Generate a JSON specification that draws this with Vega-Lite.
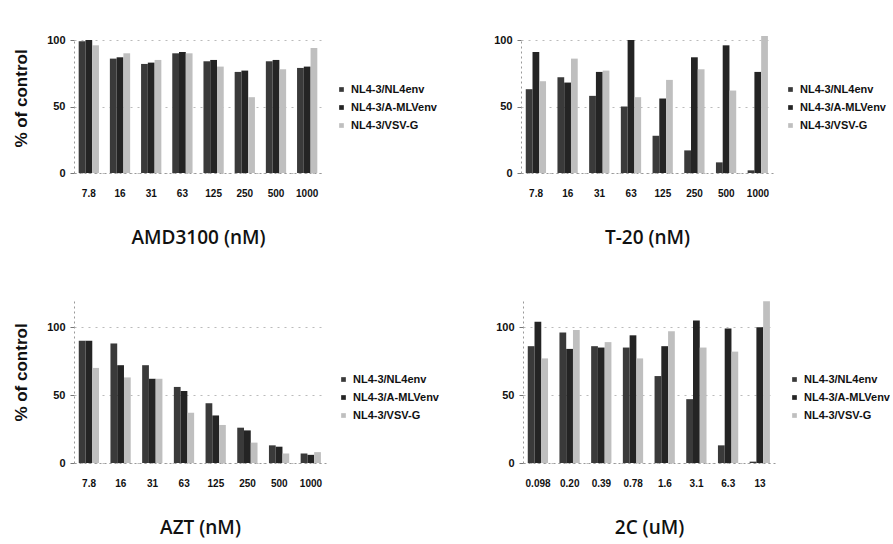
{
  "$schema": "https://vega.github.io/schema/vega-lite/v6.json",
  "background": "white",
  "padding": {"left": 12, "top": 34, "right": 0, "bottom": 8},
  "config": {
    "view": {"stroke": null},
    "font": "Liberation Sans",
    "axis": {
      "labelFont": "Liberation Sans", "labelFontWeight": "bold", "labelFontSize": 10, "labelColor": "#111",
      "titleFont": "Open Sans", "titleFontSize": 19, "titleFontWeight": 600, "titleColor": "#111",
      "domainColor": "#999", "domainDash": [2, 3], "tickColor": "#777", "gridColor": "#bbb", "gridDash": [2, 5]
    },
    "axisX": {"ticks": false, "labelPadding": 15, "titlePadding": 30, "grid": false, "labelAngle": 0},
    "axisY": {"tickSize": 4, "labelPadding": 5, "labelFontSize": 11, "titleFont": "Liberation Sans", "titleFontSize": 17, "titleFontWeight": "bold", "titlePadding": 16, "grid": true},
    "legend": {"labelFont": "Liberation Sans", "labelFontWeight": "bold", "labelFontSize": 11, "labelColor": "#111", "symbolType": "square", "symbolSize": 22, "symbolStrokeWidth": 0, "rowPadding": 6, "title": null},
    "bar": {"stroke": null}
  },
  "data": {"values": [
    {"panel": "AMD3100", "conc": "7.8", "series": "NL4-3/NL4env", "value": 99},
    {"panel": "AMD3100", "conc": "7.8", "series": "NL4-3/A-MLVenv", "value": 100},
    {"panel": "AMD3100", "conc": "7.8", "series": "NL4-3/VSV-G", "value": 96},
    {"panel": "AMD3100", "conc": "16", "series": "NL4-3/NL4env", "value": 86},
    {"panel": "AMD3100", "conc": "16", "series": "NL4-3/A-MLVenv", "value": 87},
    {"panel": "AMD3100", "conc": "16", "series": "NL4-3/VSV-G", "value": 90},
    {"panel": "AMD3100", "conc": "31", "series": "NL4-3/NL4env", "value": 82},
    {"panel": "AMD3100", "conc": "31", "series": "NL4-3/A-MLVenv", "value": 83},
    {"panel": "AMD3100", "conc": "31", "series": "NL4-3/VSV-G", "value": 85},
    {"panel": "AMD3100", "conc": "63", "series": "NL4-3/NL4env", "value": 90},
    {"panel": "AMD3100", "conc": "63", "series": "NL4-3/A-MLVenv", "value": 91},
    {"panel": "AMD3100", "conc": "63", "series": "NL4-3/VSV-G", "value": 90},
    {"panel": "AMD3100", "conc": "125", "series": "NL4-3/NL4env", "value": 84},
    {"panel": "AMD3100", "conc": "125", "series": "NL4-3/A-MLVenv", "value": 85},
    {"panel": "AMD3100", "conc": "125", "series": "NL4-3/VSV-G", "value": 80},
    {"panel": "AMD3100", "conc": "250", "series": "NL4-3/NL4env", "value": 76},
    {"panel": "AMD3100", "conc": "250", "series": "NL4-3/A-MLVenv", "value": 77},
    {"panel": "AMD3100", "conc": "250", "series": "NL4-3/VSV-G", "value": 57},
    {"panel": "AMD3100", "conc": "500", "series": "NL4-3/NL4env", "value": 84},
    {"panel": "AMD3100", "conc": "500", "series": "NL4-3/A-MLVenv", "value": 85},
    {"panel": "AMD3100", "conc": "500", "series": "NL4-3/VSV-G", "value": 78},
    {"panel": "AMD3100", "conc": "1000", "series": "NL4-3/NL4env", "value": 79},
    {"panel": "AMD3100", "conc": "1000", "series": "NL4-3/A-MLVenv", "value": 80},
    {"panel": "AMD3100", "conc": "1000", "series": "NL4-3/VSV-G", "value": 94},

    {"panel": "T-20", "conc": "7.8", "series": "NL4-3/NL4env", "value": 63},
    {"panel": "T-20", "conc": "7.8", "series": "NL4-3/A-MLVenv", "value": 91},
    {"panel": "T-20", "conc": "7.8", "series": "NL4-3/VSV-G", "value": 69},
    {"panel": "T-20", "conc": "16", "series": "NL4-3/NL4env", "value": 72},
    {"panel": "T-20", "conc": "16", "series": "NL4-3/A-MLVenv", "value": 68},
    {"panel": "T-20", "conc": "16", "series": "NL4-3/VSV-G", "value": 86},
    {"panel": "T-20", "conc": "31", "series": "NL4-3/NL4env", "value": 58},
    {"panel": "T-20", "conc": "31", "series": "NL4-3/A-MLVenv", "value": 76},
    {"panel": "T-20", "conc": "31", "series": "NL4-3/VSV-G", "value": 77},
    {"panel": "T-20", "conc": "63", "series": "NL4-3/NL4env", "value": 50},
    {"panel": "T-20", "conc": "63", "series": "NL4-3/A-MLVenv", "value": 100},
    {"panel": "T-20", "conc": "63", "series": "NL4-3/VSV-G", "value": 57},
    {"panel": "T-20", "conc": "125", "series": "NL4-3/NL4env", "value": 28},
    {"panel": "T-20", "conc": "125", "series": "NL4-3/A-MLVenv", "value": 56},
    {"panel": "T-20", "conc": "125", "series": "NL4-3/VSV-G", "value": 70},
    {"panel": "T-20", "conc": "250", "series": "NL4-3/NL4env", "value": 17},
    {"panel": "T-20", "conc": "250", "series": "NL4-3/A-MLVenv", "value": 87},
    {"panel": "T-20", "conc": "250", "series": "NL4-3/VSV-G", "value": 78},
    {"panel": "T-20", "conc": "500", "series": "NL4-3/NL4env", "value": 8},
    {"panel": "T-20", "conc": "500", "series": "NL4-3/A-MLVenv", "value": 96},
    {"panel": "T-20", "conc": "500", "series": "NL4-3/VSV-G", "value": 62},
    {"panel": "T-20", "conc": "1000", "series": "NL4-3/NL4env", "value": 2},
    {"panel": "T-20", "conc": "1000", "series": "NL4-3/A-MLVenv", "value": 76},
    {"panel": "T-20", "conc": "1000", "series": "NL4-3/VSV-G", "value": 103},

    {"panel": "AZT", "conc": "7.8", "series": "NL4-3/NL4env", "value": 90},
    {"panel": "AZT", "conc": "7.8", "series": "NL4-3/A-MLVenv", "value": 90},
    {"panel": "AZT", "conc": "7.8", "series": "NL4-3/VSV-G", "value": 70},
    {"panel": "AZT", "conc": "16", "series": "NL4-3/NL4env", "value": 88},
    {"panel": "AZT", "conc": "16", "series": "NL4-3/A-MLVenv", "value": 72},
    {"panel": "AZT", "conc": "16", "series": "NL4-3/VSV-G", "value": 63},
    {"panel": "AZT", "conc": "31", "series": "NL4-3/NL4env", "value": 72},
    {"panel": "AZT", "conc": "31", "series": "NL4-3/A-MLVenv", "value": 62},
    {"panel": "AZT", "conc": "31", "series": "NL4-3/VSV-G", "value": 62},
    {"panel": "AZT", "conc": "63", "series": "NL4-3/NL4env", "value": 56},
    {"panel": "AZT", "conc": "63", "series": "NL4-3/A-MLVenv", "value": 53},
    {"panel": "AZT", "conc": "63", "series": "NL4-3/VSV-G", "value": 37},
    {"panel": "AZT", "conc": "125", "series": "NL4-3/NL4env", "value": 44},
    {"panel": "AZT", "conc": "125", "series": "NL4-3/A-MLVenv", "value": 35},
    {"panel": "AZT", "conc": "125", "series": "NL4-3/VSV-G", "value": 28},
    {"panel": "AZT", "conc": "250", "series": "NL4-3/NL4env", "value": 26},
    {"panel": "AZT", "conc": "250", "series": "NL4-3/A-MLVenv", "value": 24},
    {"panel": "AZT", "conc": "250", "series": "NL4-3/VSV-G", "value": 15},
    {"panel": "AZT", "conc": "500", "series": "NL4-3/NL4env", "value": 13},
    {"panel": "AZT", "conc": "500", "series": "NL4-3/A-MLVenv", "value": 12},
    {"panel": "AZT", "conc": "500", "series": "NL4-3/VSV-G", "value": 7},
    {"panel": "AZT", "conc": "1000", "series": "NL4-3/NL4env", "value": 7},
    {"panel": "AZT", "conc": "1000", "series": "NL4-3/A-MLVenv", "value": 6},
    {"panel": "AZT", "conc": "1000", "series": "NL4-3/VSV-G", "value": 8},

    {"panel": "2C", "conc": "0.098", "series": "NL4-3/NL4env", "value": 86},
    {"panel": "2C", "conc": "0.098", "series": "NL4-3/A-MLVenv", "value": 104},
    {"panel": "2C", "conc": "0.098", "series": "NL4-3/VSV-G", "value": 77},
    {"panel": "2C", "conc": "0.20", "series": "NL4-3/NL4env", "value": 96},
    {"panel": "2C", "conc": "0.20", "series": "NL4-3/A-MLVenv", "value": 84},
    {"panel": "2C", "conc": "0.20", "series": "NL4-3/VSV-G", "value": 98},
    {"panel": "2C", "conc": "0.39", "series": "NL4-3/NL4env", "value": 86},
    {"panel": "2C", "conc": "0.39", "series": "NL4-3/A-MLVenv", "value": 85},
    {"panel": "2C", "conc": "0.39", "series": "NL4-3/VSV-G", "value": 89},
    {"panel": "2C", "conc": "0.78", "series": "NL4-3/NL4env", "value": 85},
    {"panel": "2C", "conc": "0.78", "series": "NL4-3/A-MLVenv", "value": 94},
    {"panel": "2C", "conc": "0.78", "series": "NL4-3/VSV-G", "value": 77},
    {"panel": "2C", "conc": "1.6", "series": "NL4-3/NL4env", "value": 64},
    {"panel": "2C", "conc": "1.6", "series": "NL4-3/A-MLVenv", "value": 86},
    {"panel": "2C", "conc": "1.6", "series": "NL4-3/VSV-G", "value": 97},
    {"panel": "2C", "conc": "3.1", "series": "NL4-3/NL4env", "value": 47},
    {"panel": "2C", "conc": "3.1", "series": "NL4-3/A-MLVenv", "value": 105},
    {"panel": "2C", "conc": "3.1", "series": "NL4-3/VSV-G", "value": 85},
    {"panel": "2C", "conc": "6.3", "series": "NL4-3/NL4env", "value": 13},
    {"panel": "2C", "conc": "6.3", "series": "NL4-3/A-MLVenv", "value": 99},
    {"panel": "2C", "conc": "6.3", "series": "NL4-3/VSV-G", "value": 82},
    {"panel": "2C", "conc": "13", "series": "NL4-3/NL4env", "value": 1},
    {"panel": "2C", "conc": "13", "series": "NL4-3/A-MLVenv", "value": 100},
    {"panel": "2C", "conc": "13", "series": "NL4-3/VSV-G", "value": 119}
  ]},
  "resolve": {"scale": {"color": "independent"}},
  "spacing": 53,
  "vconcat": [
    {
      "resolve": {"scale": {"color": "independent"}},
      "spacing": 56,
      "hconcat": [
        {
          "width": 248, "height": 133,
          "transform": [{"filter": "datum.panel === 'AMD3100'"}],
          "mark": "bar",
          "encoding": {
            "x": {"field": "conc", "type": "nominal", "sort": null, "scale": {"paddingInner": 0.35, "paddingOuter": 0.15}, "axis": {"title": "AMD3100 (nM)"}},
            "xOffset": {"field": "series", "type": "nominal", "sort": null},
            "y": {"field": "value", "type": "quantitative", "scale": {"domain": [0, 100]}, "axis": {"values": [0, 50, 100], "title": "% of control", "titleY": 58}},
            "color": {"field": "series", "type": "nominal", "sort": null, "scale": {"domain": ["NL4-3/NL4env", "NL4-3/A-MLVenv", "NL4-3/VSV-G"], "range": ["#3a3a3a", "#242424", "#bfbfbf"]}, "legend": {"orient": "none", "legendX": 262, "legendY": 44}}
          }
        },
        {
          "width": 252, "height": 133,
          "transform": [{"filter": "datum.panel === 'T-20'"}],
          "mark": "bar",
          "encoding": {
            "x": {"field": "conc", "type": "nominal", "sort": null, "scale": {"paddingInner": 0.35, "paddingOuter": 0.15}, "axis": {"title": "T-20 (nM)"}},
            "xOffset": {"field": "series", "type": "nominal", "sort": null},
            "y": {"field": "value", "type": "quantitative", "scale": {"domain": [0, 100]}, "axis": {"values": [0, 50, 100], "title": null}},
            "color": {"field": "series", "type": "nominal", "sort": null, "scale": {"domain": ["NL4-3/NL4env", "NL4-3/A-MLVenv", "NL4-3/VSV-G"], "range": ["#3a3a3a", "#242424", "#bfbfbf"]}, "legend": {"orient": "none", "legendX": 264, "legendY": 44}}
          }
        }
      ]
    },
    {
      "resolve": {"scale": {"color": "independent"}},
      "spacing": 56,
      "hconcat": [
        {
          "width": 252, "height": 163,
          "transform": [{"filter": "datum.panel === 'AZT'"}],
          "mark": "bar",
          "encoding": {
            "x": {"field": "conc", "type": "nominal", "sort": null, "scale": {"paddingInner": 0.35, "paddingOuter": 0.15}, "axis": {"title": "AZT (nM)"}},
            "xOffset": {"field": "series", "type": "nominal", "sort": null},
            "y": {"field": "value", "type": "quantitative", "scale": {"domain": [0, 120]}, "axis": {"values": [0, 50, 100], "title": "% of control", "titleY": 72}},
            "color": {"field": "series", "type": "nominal", "sort": null, "scale": {"domain": ["NL4-3/NL4env", "NL4-3/A-MLVenv", "NL4-3/VSV-G"], "range": ["#3a3a3a", "#242424", "#bfbfbf"]}, "legend": {"orient": "none", "legendX": 264, "legendY": 74}}
          }
        },
        {
          "width": 252, "height": 163,
          "transform": [{"filter": "datum.panel === '2C'"}],
          "mark": "bar",
          "encoding": {
            "x": {"field": "conc", "type": "nominal", "sort": null, "scale": {"paddingInner": 0.35, "paddingOuter": 0.15}, "axis": {"title": "2C (uM)"}},
            "xOffset": {"field": "series", "type": "nominal", "sort": null},
            "y": {"field": "value", "type": "quantitative", "scale": {"domain": [0, 120]}, "axis": {"values": [0, 50, 100], "title": null}},
            "color": {"field": "series", "type": "nominal", "sort": null, "scale": {"domain": ["NL4-3/NL4env", "NL4-3/A-MLVenv", "NL4-3/VSV-G"], "range": ["#3a3a3a", "#242424", "#bfbfbf"]}, "legend": {"orient": "none", "legendX": 266, "legendY": 74}}
          }
        }
      ]
    }
  ]
}
